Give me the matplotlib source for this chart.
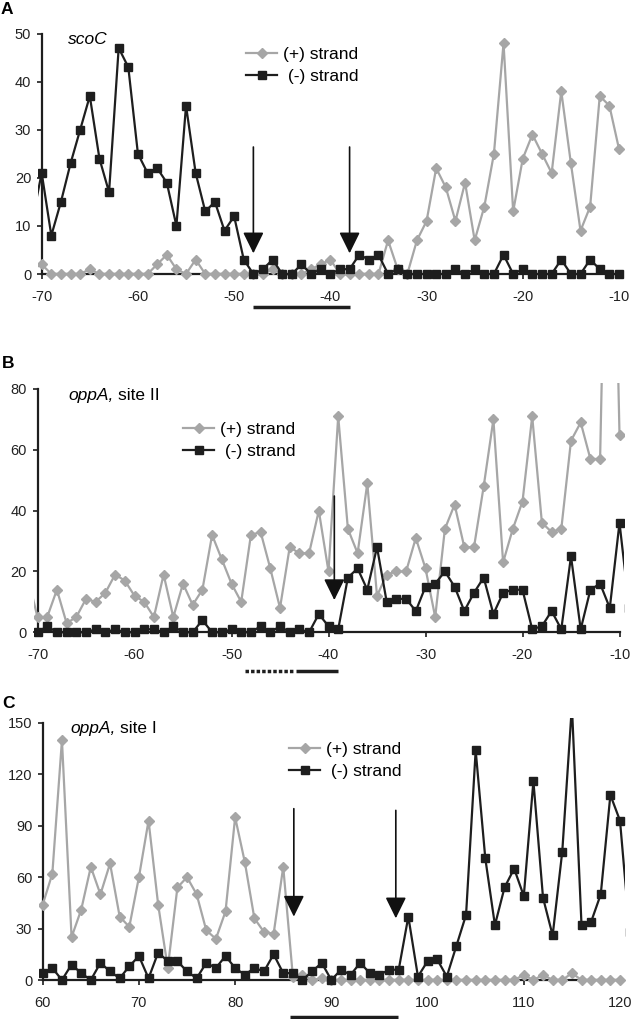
import numpy as np
import matplotlib
matplotlib.use("Agg")
import matplotlib.pyplot as plt

plt.rcParams['font.family'] = ['Liberation Sans', 'DejaVu Sans']
plt.rcParams['axes.unicode_minus'] = False

# ---- data -------------------------------------------------------------
# panel A, scoC (positions -71 .. -10)
pos_a = np.arange(-71, -9)
plus_a = [1, 2, 0, 0, 0, 0, 1, 0, 0, 0, 0, 0, 0, 2, 4, 1, 0, 3, 0, 0, 0, 0,
          0, 0, 0, 1, 0, 0, 0, 1, 2, 3, 0, 0, 0, 0, 0, 7, 1, 0, 7, 11, 22, 18,
          11, 19, 7, 14, 25, 48, 13, 24, 29, 25, 21, 38, 23, 9, 14, 37, 35, 26]
minus_a = [11, 21, 8, 15, 23, 30, 37, 24, 17, 47, 43, 25, 21, 22, 19, 10, 35,
           21, 13, 15, 9, 12, 3, 0, 1, 3, 0, 0, 2, 0, 1, 0, 1, 1, 4, 3, 4, 0,
           1, 0, 0, 0, 0, 0, 1, 0, 1, 0, 0, 4, 0, 1, 0, 0, 0, 3, 0, 0, 3, 1,
           0, 0]

# panel B, oppA site II (positions -71 .. -9)
pos_b = np.arange(-71, -8)
plus_b = [18, 5, 5, 14, 3, 5, 11, 10, 13, 19, 17, 12, 10, 5, 19, 5, 16, 9, 14,
          32, 24, 16, 10, 32, 33, 21, 8, 28, 26, 26, 40, 20, 71, 34, 26, 49,
          12, 19, 20, 20, 31, 21, 5, 34, 42, 28, 28, 48, 70, 23, 34, 43, 71,
          36, 33, 34, 63, 69, 57, 57, 210, 65, np.nan]
minus_b = [0, 0, 2, 0, 0, 0, 0, 1, 0, 1, 0, 0, 1, 1, 0, 2, 0, 0, 4, 0, 0, 1,
           0, 0, 2, 0, 2, 0, 1, 0, 6, 2, 1, 18, 21, 14, 28, 10, 11, 11, 7, 15,
           16, 20, 15, 7, 13, 18, 6, 13, 14, 14, 1, 2, 7, 1, 25, 1, 14, 16, 8,
           36, 8]

# panel C, oppA site I (positions 60 .. 121)
pos_c = np.arange(60, 122)
plus_c = [44, 62, 140, 25, 41, 66, 50, 68, 37, 31, 60, 93, 44, 7, 54, 60, 50,
          29, 24, 40, 95, 69, 36, 28, 27, 66, 2, 3, 0, 1, 0, 0, 0, 0, 0, 0, 0,
          0, 0, 0, 0, 0, 0, 0, 0, 0, 0, 0, 0, 0, 3, 0, 3, 0, 0, 4, 0, 0, 0, 0,
          0, np.nan]
minus_c = [4, 7, 0, 9, 4, 0, 10, 5, 1, 8, 14, 1, 16, 11, 11, 5, 1, 10, 7, 14,
           7, 3, 7, 5, 15, 4, 4, 0, 5, 10, 0, 6, 3, 10, 4, 3, 6, 6, 37, 2, 11,
           12, 2, 20, 38, 134, 71, 32, 54, 65, 49, 116, 48, 26, 75, 160, 32,
           34, 50, 108, 93, 28]

labels = ['(+) strand', ' (-) strand']
gene_a = 'scoC'
gene_b = 'site II'
gene_c = 'site I'

# arrows (x, top, tip) in data units
arrows_a = [(-48, 26.4, 4.3), (-38, 26.4, 4.3)]
arrows_b = [(-39.4, 44.8, 10.6)]
arrows_c = [(86.1, 100, 37), (96.7, 99, 36)]

W, H = 631, 1019
fig = plt.figure(figsize=(W / 100, H / 100), dpi=100)

GREY = '#a6a6a6'
BLACK = '#1e1e1e'


def make_axes(xref, yref, xlim, ylim):
    (x0, px0), (x1, px1) = xref
    (y0, py0), (y1, py1) = yref
    sx = (px1 - px0) / (x1 - x0)
    sy = (py1 - py0) / (y1 - y0)
    left = px0 + (xlim[0] - x0) * sx
    right = px0 + (xlim[1] - x0) * sx
    bottom = py0 + (ylim[0] - y0) * sy
    top = py0 + (ylim[1] - y0) * sy
    ax = fig.add_axes([left / W, 1 - bottom / H, (right - left) / W,
                       (bottom - top) / H])
    ax.set_xlim(xlim)
    ax.set_ylim(ylim)
    ax.patch.set_alpha(0)
    return ax


def style(ax, x0, x1, ytop, ystep):
    for s in ['top', 'right']:
        ax.spines[s].set_visible(False)
    ax.spines['left'].set_position(('data', x0))
    ax.spines['bottom'].set_position(('data', 0))
    ax.spines['left'].set_bounds(0, ytop)
    ax.spines['bottom'].set_bounds(x0, x1)
    for s in ['left', 'bottom']:
        ax.spines[s].set_linewidth(1.6)
        ax.spines[s].set_color(BLACK)
    ax.set_xticks(np.arange(x0, x1 + 1, 10))
    ax.set_yticks(np.arange(0, ytop + 1, ystep))
    ax.tick_params(direction='out', length=3.5, width=1.2, color=BLACK,
                   labelsize=10.5, labelcolor='#222222')
    ax.tick_params(axis='x', pad=8)
    ax.tick_params(axis='y', pad=4)


def draw(ax, pos, plus, minus, arrows, legend_px):
    ax.plot(pos, plus, color=GREY, marker='D', ms=5.0, lw=1.6,
            label=labels[0], zorder=3)
    ax.plot(pos, minus, color=BLACK, marker='s', ms=6.2, lw=1.6,
            label=labels[1], zorder=4)
    for x, top, tip in arrows:
        ax.annotate('', xy=(x, tip), xytext=(x, top), annotation_clip=False,
                    arrowprops=dict(arrowstyle='-|>,head_length=0.65,head_width=0.32',
                                    mutation_scale=20, color='#111111', lw=1.2,
                                    shrinkA=0, shrinkB=0), zorder=6)
    ax.legend(loc='upper left', bbox_to_anchor=(legend_px[0] / W, 1 - legend_px[1] / H),
              bbox_transform=fig.transFigure, frameon=False, fontsize=12.5,
              handlelength=1.8, handletextpad=0.35, labelspacing=0.4,
              borderpad=0, borderaxespad=0)


# panel A
ax_a = make_axes(((-70, 41.7), (-10, 619)), ((0, 274), (50, 33.5)),
                 (-70.4, -9.5), (-1.2, 51))
style(ax_a, -70, -10, 50, 10)
draw(ax_a, pos_a, plus_a, minus_a, arrows_a, (246, 47))
ax_a.plot([-48, -38], [-6.85, -6.85], color=BLACK, lw=2.5, clip_on=False,
          solid_capstyle='butt')

# panel B
ax_b = make_axes(((-70, 37.5), (-10, 619.5)), ((0, 632.3), (80, 389)),
                 (-70.4, -9.5), (-1.8, 82))
style(ax_b, -70, -10, 80, 20)
draw(ax_b, pos_b, plus_b, minus_b, arrows_b, (183, 422))
ax_b.plot([-48.6, -43.6], [-12.6, -12.6], color=BLACK, lw=2.5, ls=(0, (1, 0.6)),
          clip_on=False, solid_capstyle='butt')
ax_b.plot([-43.3, -39], [-12.6, -12.6], color=BLACK, lw=2.5, clip_on=False,
          solid_capstyle='butt')

# panel C
ax_c = make_axes(((60, 42.7), (120, 620)), ((0, 980), (150, 723)),
                 (59.6, 120.5), (-3.5, 153))
style(ax_c, 60, 120, 150, 30)
draw(ax_c, pos_c, plus_c, minus_c, arrows_c, (289, 742))
ax_c.plot([85.7, 96.9], [-21.7, -21.7], color=BLACK, lw=2.5, clip_on=False,
          solid_capstyle='butt')

# panel letters and gene names
for letter, (px, py) in zip('ABC', [(1, 10), (2, 363), (2, 703)]):
    fig.text(px / W, 1 - py / H, letter, fontsize=12.5, fontweight='bold',
             va='center', ha='left')
fig.text(68.3 / W, 1 - 44.5 / H, gene_a, fontsize=12.5, style='italic',
         va='baseline')
fig.text(68.3 / W, 1 - 399.5 / H, 'oppA,', fontsize=12.5, style='italic',
         va='baseline')
fig.text(118 / W, 1 - 399.5 / H, gene_b, fontsize=12.5, va='baseline')
fig.text(70 / W, 1 - 733 / H, 'oppA,', fontsize=12.5, style='italic',
         va='baseline')
fig.text(120 / W, 1 - 733 / H, gene_c, fontsize=12.5, va='baseline')

fig.savefig('out.png', dpi=100)
